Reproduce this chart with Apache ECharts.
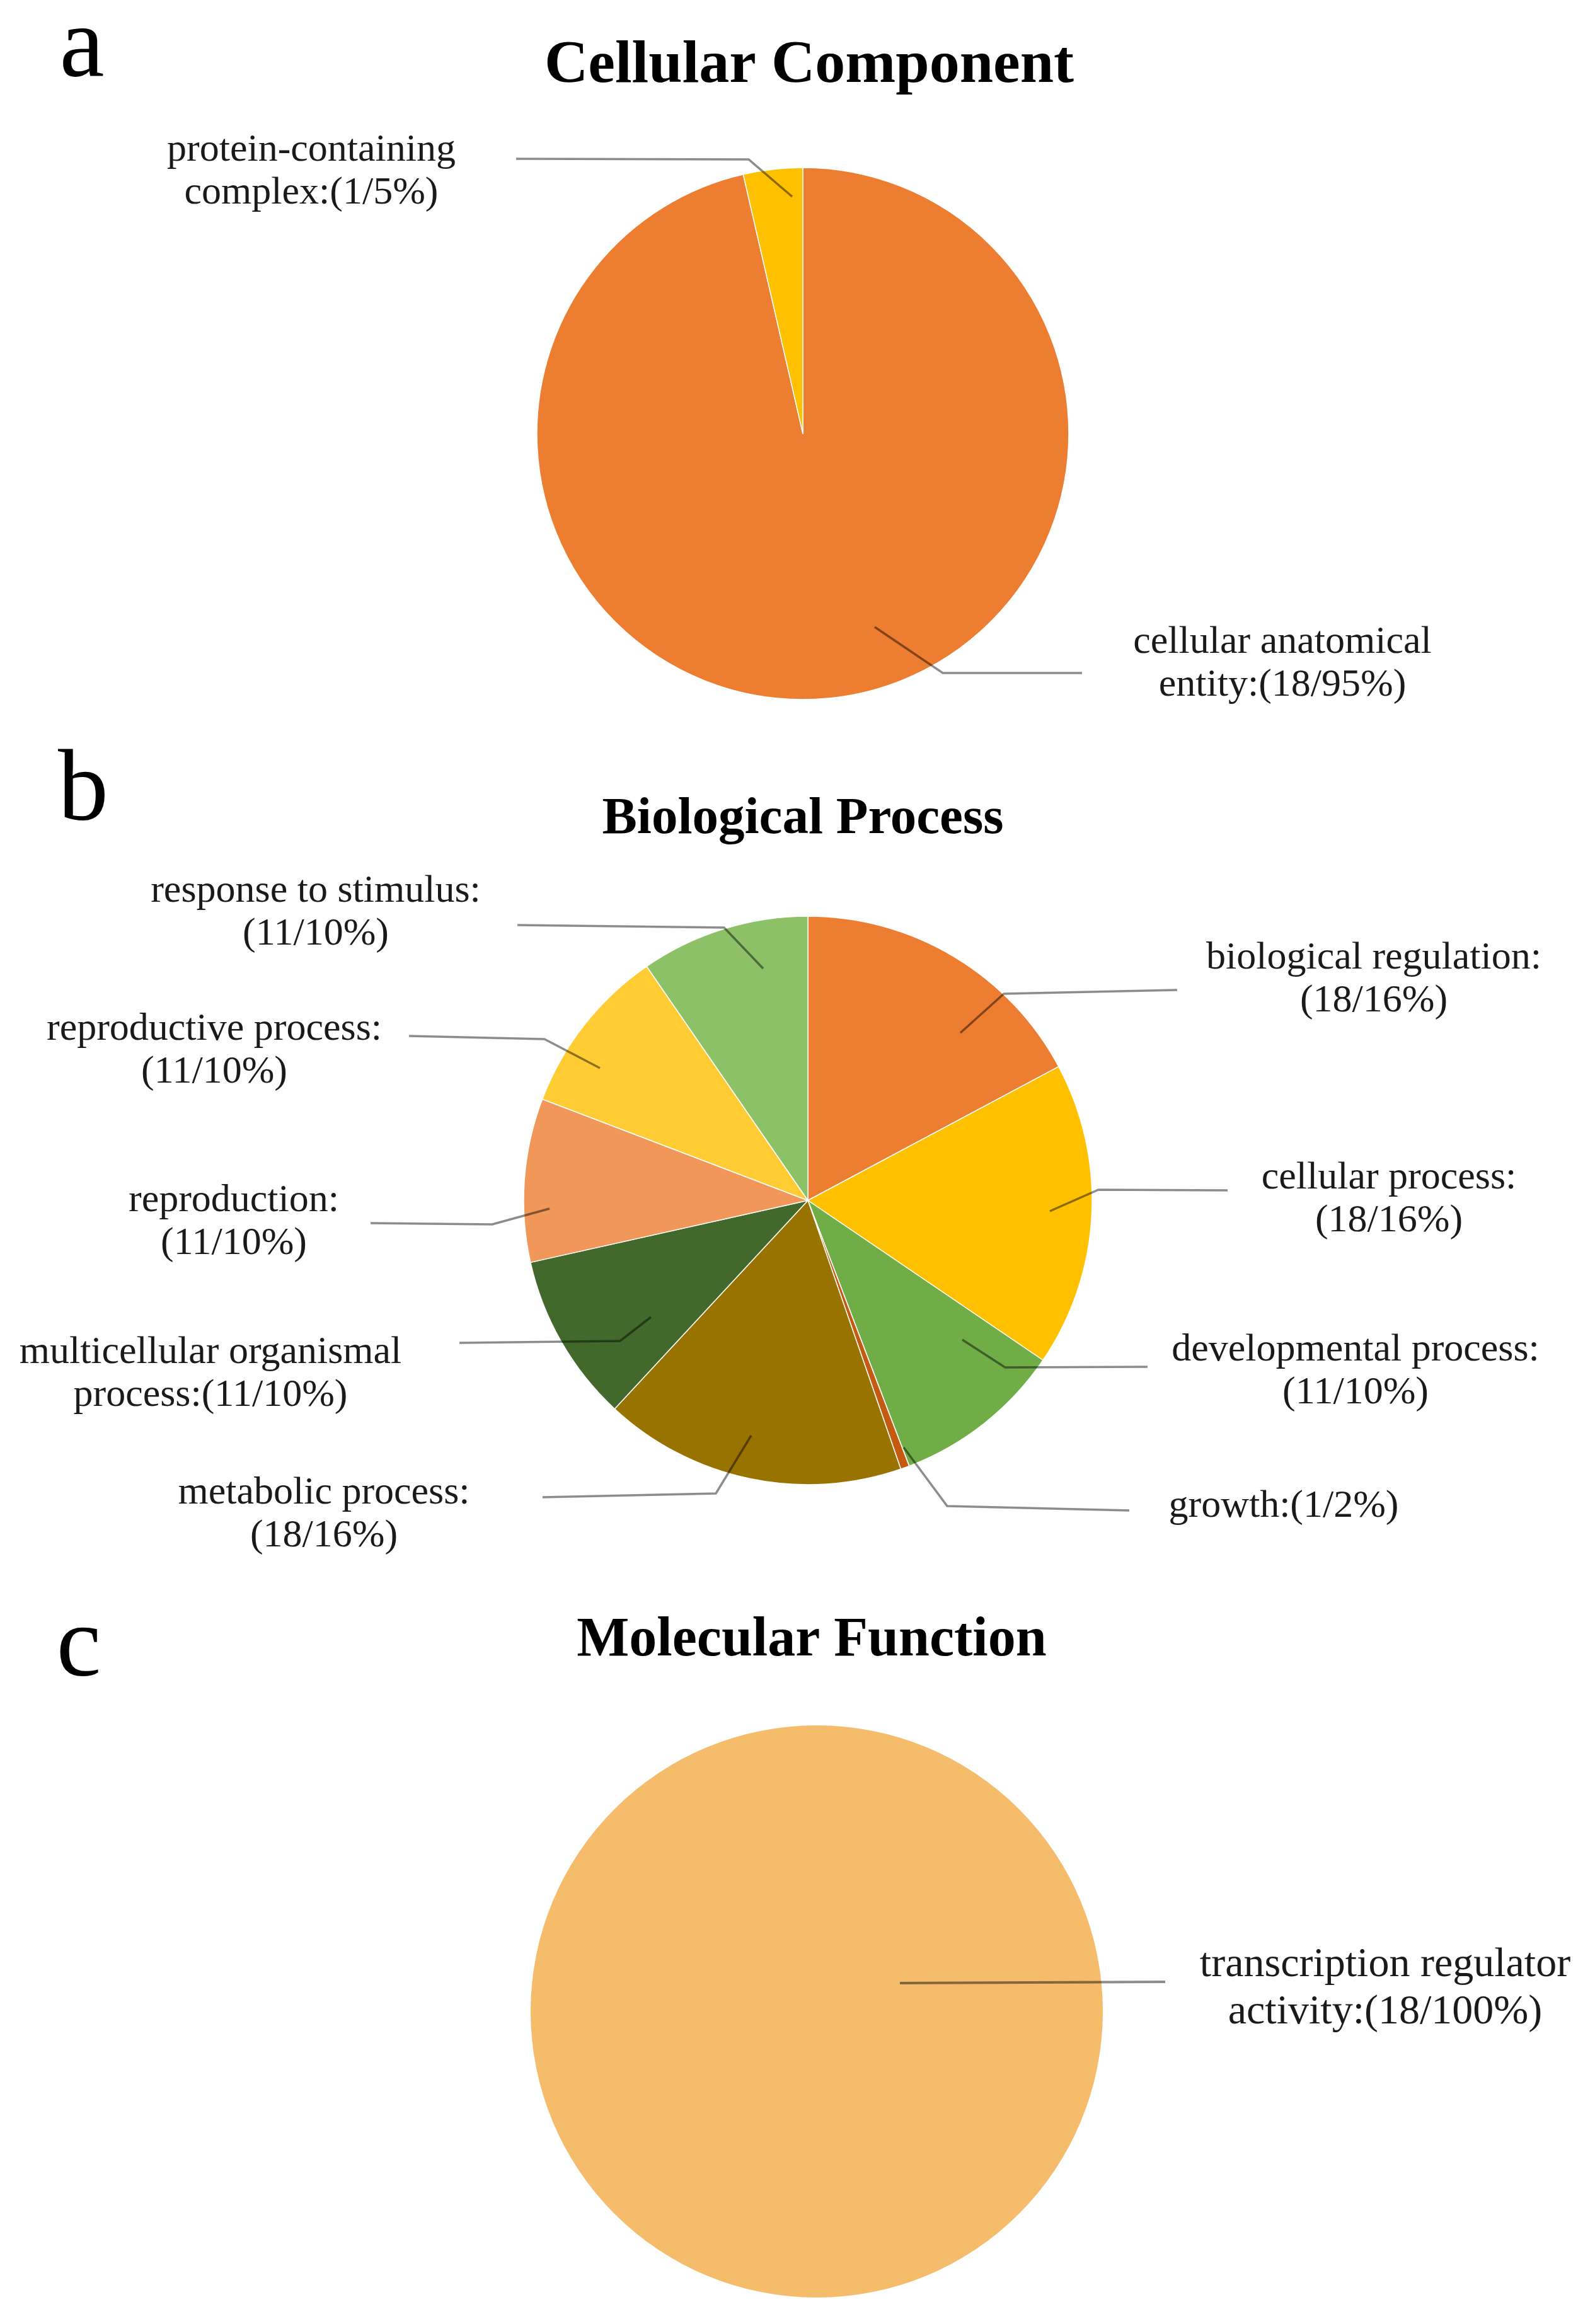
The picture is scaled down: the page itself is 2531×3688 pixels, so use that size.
<!DOCTYPE html>
<html>
<head>
<meta charset="utf-8">
<script src="https://cdn.jsdelivr.net/npm/echarts@6/dist/echarts.min.js"></script>
<style>
html,body{margin:0;padding:0;background:#ffffff;}
#chart{width:2531px;height:3688px;}
</style>
</head>
<body>
<div id="chart"></div>
<script>
// ================= DATA =================
// Panel a : Cellular Component
const ccNames    = ['cellular anatomical\nentity', 'protein-containing\ncomplex'];
const ccCounts   = [18, 1];
const ccPercents = [95, 5];
const ccShares   = [96.4, 3.6];          // slice size as drawn (% of circle)

// Panel b : Biological Process
const bpNames    = ['biological regulation', 'cellular process', 'developmental process', 'growth',
                    'metabolic process', 'multicellular organismal\nprocess', 'reproduction',
                    'reproductive process', 'response to stimulus'];
const bpCounts   = [18, 18, 11, 1, 18, 11, 11, 11, 11];
const bpPercents = [16, 16, 10, 2, 16, 10, 10, 10, 10];
const bpShares   = [17.2, 17.3, 9.7, 0.5, 17.2, 9.6, 9.3, 9.6, 9.6];

// Panel c : Molecular Function
const mfNames    = ['transcription regulator\nactivity'];
const mfCounts   = [18];
const mfPercents = [100];
const mfShares   = [100];

const panelTitles  = ['Cellular Component', 'Biological Process', 'Molecular Function'];
const panelLetters = ['a', 'b', 'c'];

// ================= STYLES =================
const ccColors = ['#ED7D31', '#FFC000'];
const bpColors = ['#ED7D31', '#FFC000', '#70AD47', '#C55A11', '#997300', '#43682B', '#F1975A', '#FFCC33', '#8CC168'];
const mfColors = ['#F4BC6B'];

const FONT = '"Liberation Serif", "Times New Roman", serif';

// ================= LAYOUT (label placement, pie geometry) =================
const geo = {
  a: {cx: 1274, cy: 688,  r: 422},
  b: {cx: 1282, cy: 1905, r: 451},
  c: {cx: 1296, cy: 3192, r: 454}
};
const ccLayout = [
  {x: 2035, y: 1054, br: false, line: [[1388, 995], [1496, 1068], [1717, 1068]]},
  {x: 494,  y: 273,  br: false, line: [[1257, 312], [1188, 253], [819, 252]]}
];
const bpLayout = [
  {x: 2180, y: 1555, br: true,  line: [[1524, 1639], [1593, 1577], [1868, 1571]]},
  {x: 2204, y: 1904, br: true,  line: [[1666, 1922], [1743, 1888], [1948, 1889]]},
  {x: 2151, y: 2177, br: true,  line: [[1527, 2126], [1595, 2170], [1821, 2169]]},
  {x: 2037, y: 2391, br: false, line: [[1434, 2297], [1503, 2390], [1792, 2397]]},
  {x: 514,  y: 2404, br: true,  line: [[1192, 2278], [1136, 2370], [861, 2376]]},
  {x: 334,  y: 2181, br: false, line: [[1033, 2090], [984, 2128], [729, 2131]]},
  {x: 371,  y: 1940, br: true,  line: [[872, 1918], [781, 1943], [588, 1941]]},
  {x: 340,  y: 1668, br: true,  line: [[952, 1695], [864, 1649], [649, 1644]]},
  {x: 501,  y: 1449, br: true,  line: [[1211, 1537], [1149, 1472], [821, 1468]]}
];
const mfLayout = [
  {x: 2198, y: 3156, br: false, line: [[1428, 3147], [1640, 3146], [1849, 3145]]}
];

// Base pie: the coloured slices (no labels)
function slicesSeries(names, shares, colors, g, border) {
  return {
    type: 'pie', z: 1,
    center: [g.cx, g.cy], radius: g.r,
    startAngle: 90, clockwise: true,
    silent: true, animation: false,
    itemStyle: {borderColor: '#ffffff', borderWidth: border},
    emphasis: {disabled: true},
    label: {show: false}, labelLine: {show: false},
    data: names.map(function (n, i) {
      return {name: n, value: shares[i], itemStyle: {color: colors[i]}};
    })
  };
}

// Overlay pie with the same values: transparent slices, carries labels + leader lines above the slices
function labelSeries(names, counts, pcts, shares, layout, g, fontSize, lineHeight, lineWidth) {
  return {
    type: 'pie', z: 5,
    center: [g.cx, g.cy], radius: g.r,
    startAngle: 90, clockwise: true,
    avoidLabelOverlap: false,
    silent: true, animation: false,
    itemStyle: {color: 'rgba(0,0,0,0)', borderWidth: 0},
    emphasis: {disabled: true},
    label: {
      show: true,
      color: '#1a1a1a',
      fontFamily: FONT,
      fontSize: fontSize,
      lineHeight: lineHeight,
      overflow: 'none',
      formatter: function (p) {
        const i = p.dataIndex;
        return names[i] + ':' + (layout[i].br ? '\n' : '') + '(' + counts[i] + '/' + pcts[i] + '%)';
      }
    },
    labelLine: {show: true, showAbove: true, smooth: false,
                lineStyle: {color: 'rgba(0,0,0,0.45)', width: lineWidth}},
    labelLayout: function (p) {
      const L = layout[p.dataIndex];
      return {x: L.x, y: L.y, align: 'center', verticalAlign: 'middle', labelLinePoints: L.line};
    },
    data: names.map(function (n, i) {
      return {name: n, value: shares[i]};
    })
  };
}

function txt(text, x, y, font) {
  return {
    type: 'text', silent: true,
    style: {text: text, x: x, y: y, font: font, fill: '#000000',
            align: 'center', verticalAlign: 'middle', textAlign: 'center', textVerticalAlign: 'middle'}
  };
}

const chart = echarts.init(document.getElementById('chart'), null, {renderer: 'canvas'});
chart.setOption({
  backgroundColor: '#ffffff',
  animation: false,
  graphic: [
    txt(panelLetters[0], 130, 78,   'normal 160px ' + FONT),
    txt(panelLetters[1], 132, 1258, 'normal 160px ' + FONT),
    txt(panelLetters[2], 125, 2616, 'normal 160px ' + FONT),
    txt(panelTitles[0], 1284, 105,  'bold 96px ' + FONT),
    txt(panelTitles[1], 1274, 1301, 'bold 83px ' + FONT),
    txt(panelTitles[2], 1288, 2604, 'bold 88px ' + FONT)
  ],
  series: [
    slicesSeries(ccNames, ccShares, ccColors, geo.a, 1.5),
    slicesSeries(bpNames, bpShares, bpColors, geo.b, 1.5),
    slicesSeries(mfNames, mfShares, mfColors, geo.c, 0),
    labelSeries(ccNames, ccCounts, ccPercents, ccShares, ccLayout, geo.a, 62, 68, 3.5),
    labelSeries(bpNames, bpCounts, bpPercents, bpShares, bpLayout, geo.b, 62, 68, 3.5),
    labelSeries(mfNames, mfCounts, mfPercents, mfShares, mfLayout, geo.c, 66, 75, 4)
  ]
});
</script>
</body>
</html>
